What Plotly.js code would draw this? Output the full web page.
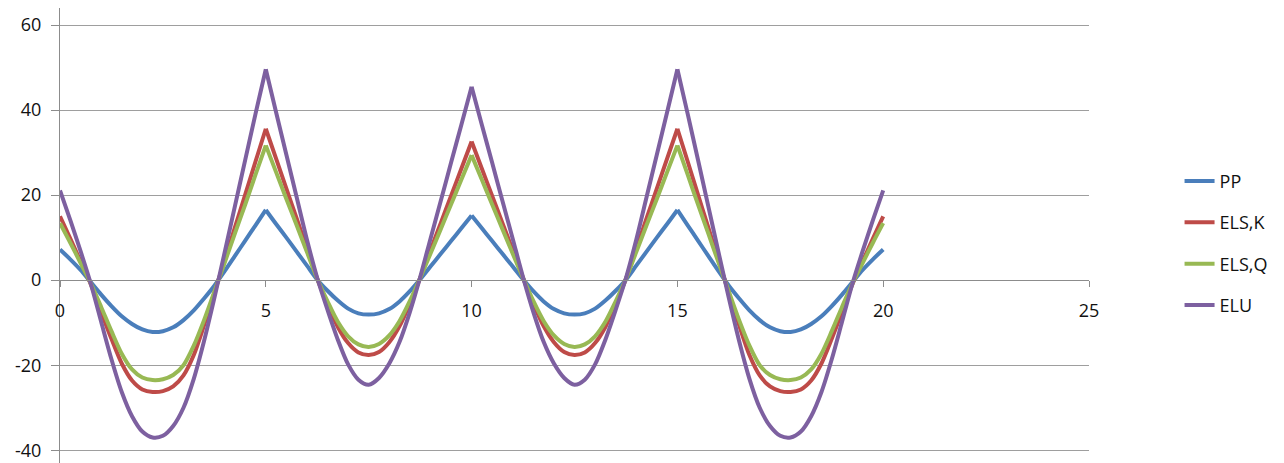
<!DOCTYPE html>
<html>
<head>
<meta charset="utf-8">
<script src="https://cdn.plot.ly/plotly-3.0.1.min.js"></script>
<style>html,body{margin:0;padding:0;background:#fff;}#chart{width:1284px;height:463px;}</style>
</head>
<body>
<div id="chart"></div>
<script>
// x positions (0 to 20, step 0.25)
const xValues = [0,0.25,0.5,0.75,1,1.25,1.5,1.75,2,2.25,2.5,2.75,3,3.25,3.5,3.75,4,4.25,4.5,4.75,
  5,5.25,5.5,5.75,6,6.25,6.5,6.75,7,7.25,7.5,7.75,8,8.25,8.5,8.75,9,9.25,9.5,9.75,
  10,10.25,10.5,10.75,11,11.25,11.5,11.75,12,12.25,12.5,12.75,13,13.25,13.5,13.75,14,14.25,14.5,14.75,
  15,15.25,15.5,15.75,16,16.25,16.5,16.75,17,17.25,17.5,17.75,18,18.25,18.5,18.75,19,19.25,19.5,19.75,20];

// support positions where the curves have a sharp corner
const supportX = [0, 5, 10, 15, 20];

const seriesNames = ["PP", "ELS,K", "ELS,Q", "ELU"];

const ppValues = [7.2,4.9,2.4,-0.5,-3.4,-6.1,-8.5,-10.3,-11.6,-12.2,-12.0,-11.1,-9.4,-7.1,-4.3,-1.3,2.1,5.7,9.3,12.9,
  16.5,13.2,10.0,6.7,3.4,0.1,-2.5,-4.8,-6.7,-7.8,-8.1,-7.8,-6.8,-5.0,-2.6,0.2,3.2,6.2,9.2,12.2,
  15.2,12.2,9.2,6.2,3.2,0.2,-2.6,-5.0,-6.8,-7.8,-8.1,-7.8,-6.7,-4.8,-2.5,0.1,3.4,6.7,10.0,13.2,
  16.5,12.9,9.3,5.7,2.1,-1.3,-4.3,-7.1,-9.4,-11.1,-12.0,-12.2,-11.6,-10.3,-8.5,-6.1,-3.4,-0.5,2.4,4.9,7.2];

const elsKValues = [15.0,9.8,4.4,-1.0,-7.5,-13.8,-19.6,-23.6,-25.7,-26.3,-26.1,-25.0,-22.4,-17.6,-10.6,-3.0,4.6,12.4,20.1,27.9,
  35.6,28.6,21.5,14.5,7.4,0.3,-5.6,-11.0,-14.8,-17.0,-17.6,-16.9,-14.6,-10.8,-5.5,0.5,7.0,13.4,19.8,26.2,
  32.6,26.2,19.8,13.4,7.0,0.5,-5.5,-10.8,-14.6,-16.9,-17.6,-17.0,-14.8,-11.0,-5.6,0.3,7.4,14.5,21.5,28.6,
  35.6,27.9,20.1,12.4,4.6,-3.0,-10.6,-17.6,-22.4,-25.0,-26.1,-26.3,-25.7,-23.6,-19.6,-13.8,-7.5,-1.0,4.4,9.8,15.0];

const elsQValues = [13.4,8.8,4.0,-0.8,-6.3,-12.0,-17.3,-21.0,-22.9,-23.5,-23.3,-22.3,-20.0,-15.4,-9.4,-2.7,4.1,11.0,17.8,24.8,
  31.7,25.4,19.1,12.9,6.6,0.3,-5.0,-9.8,-13.2,-15.1,-15.7,-15.0,-13.0,-9.6,-4.9,0.5,6.2,12.0,17.8,23.6,
  29.4,23.6,17.8,12.0,6.2,0.5,-4.9,-9.6,-13.0,-15.0,-15.7,-15.1,-13.2,-9.8,-5.0,0.3,6.6,12.9,19.1,25.4,
  31.7,24.8,17.8,11.0,4.1,-2.7,-9.4,-15.4,-20.0,-22.3,-23.3,-23.5,-22.9,-21.0,-17.3,-12.0,-6.3,-0.8,4.0,8.8,13.4];

const eluValues = [21.1,14.1,6.8,-0.9,-9.8,-18.6,-26.3,-32.0,-35.6,-37.0,-36.6,-34.3,-30.0,-23.2,-14.3,-4.2,6.5,17.4,28.3,39.1,
  49.6,39.5,29.5,19.5,9.5,0.5,-7.0,-14.0,-19.8,-23.4,-24.6,-23.0,-19.6,-14.5,-7.5,0.7,9.7,18.6,27.6,36.5,
  45.5,36.5,27.6,18.6,9.7,0.7,-7.5,-14.5,-19.6,-23.0,-24.6,-23.4,-19.8,-14.0,-7.0,0.5,9.5,19.5,29.5,39.5,
  49.6,39.1,28.3,17.4,6.5,-4.2,-14.3,-23.2,-30.0,-34.3,-36.6,-37.0,-35.6,-32.0,-26.3,-18.6,-9.8,-0.9,6.8,14.1,21.1];

const yTickValues = [-40, -20, 0, 20, 40, 60];
const xTickValues = [0, 5, 10, 15, 20, 25];

const colors = ["#4a7ebb", "#be4b48", "#98b954", "#7d60a0"];
const allValues = [ppValues, elsKValues, elsQValues, eluValues];

// Each series is drawn span by span (smooth inside a span, sharp corner at supports)
const traces = [];
allValues.forEach((vals, i) => {
  for (let s = 0; s < supportX.length - 1; s++) {
    const xs = [], ys = [];
    xValues.forEach((xv, k) => {
      if (xv >= supportX[s] && xv <= supportX[s + 1]) { xs.push(xv); ys.push(vals[k]); }
    });
    traces.push({
      x: xs,
      y: ys,
      type: "scatter",
      mode: "lines",
      name: seriesNames[i],
      legendgroup: "g" + i,
      showlegend: s === 0,
      line: {color: colors[i], width: 4, shape: "spline", smoothing: 0.8},
      hoverinfo: "skip"
    });
  }
});

const font = {family: "Open Sans, Liberation Sans, sans-serif", size: 18, color: "#111111"};

const layout = {
  width: 1284,
  height: 463,
  margin: {l: 60, r: 195, t: 8, b: 0},
  paper_bgcolor: "#ffffff",
  plot_bgcolor: "#ffffff",
  font: font,
  showlegend: true,
  legend: {
    x: 1.088, xanchor: "left",
    y: 0.66, yanchor: "top",
    font: font,
    traceorder: "grouped",
    tracegroupgap: 15,
    bgcolor: "rgba(0,0,0,0)"
  },
  xaxis: {
    range: [0, 25],
    tickvals: xTickValues,
    ticktext: xTickValues.map(String),
    showgrid: false,
    zeroline: false,
    showline: true,
    linecolor: "#8c8c8c",
    linewidth: 1,
    ticks: "outside",
    ticklen: 6,
    tickcolor: "#8c8c8c",
    ticklabelstandoff: 8,
    anchor: "free",
    position: 43 / 107,
    tickfont: font,
    fixedrange: true
  },
  yaxis: {
    range: [-43, 64],
    tickvals: yTickValues,
    ticktext: yTickValues.map(String),
    showgrid: true,
    gridcolor: "#9e9e9e",
    gridwidth: 1,
    zeroline: false,
    showline: true,
    linecolor: "#8c8c8c",
    linewidth: 1,
    ticks: "outside",
    ticklen: 8,
    tickcolor: "#8c8c8c",
    ticklabelstandoff: 6,
    ticklabeloverflow: "allow",
    tickfont: font,
    fixedrange: true
  }
};

Plotly.newPlot("chart", traces, layout, {displayModeBar: false, staticPlot: true});
</script>
</body>
</html>
